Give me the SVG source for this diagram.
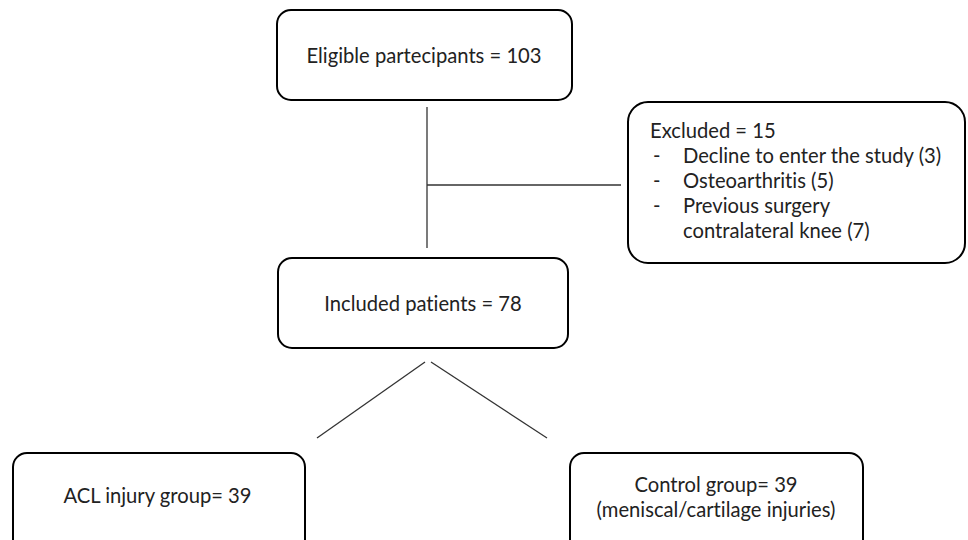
<svg xmlns="http://www.w3.org/2000/svg" width="968" height="540" viewBox="0 0 968 540">
<style>
.box{fill:#fff;stroke:#000;stroke-width:2}
.t{font-family:Lato,"Open Sans","Liberation Sans",sans-serif;font-size:20.2px;fill:#222;font-variant-ligatures:none}
.c{text-anchor:middle}
.ln{stroke:#333;stroke-width:1.3;fill:none}
</style>
<rect width="968" height="540" fill="#fff"/>
<g id="connectors">
<line class="ln" x1="427" y1="107" x2="427" y2="248"/>
<line class="ln" x1="427" y1="185" x2="621" y2="185"/>
<line class="ln" x1="425" y1="362" x2="317" y2="438"/>
<line class="ln" x1="431" y1="362" x2="547" y2="438"/>
</g>
<g id="eligible">
<rect class="box" x="277" y="10" width="295" height="90" rx="14"/>
<text class="t c" x="424" y="63">Eligible partecipants = 103</text>
</g>
<g id="excluded">
<rect class="box" x="628" y="102" width="337" height="161" rx="20"/>
<text class="t" x="650" y="138">Excluded = 15</text>
<text class="t" x="653" y="163">-</text>
<text class="t" x="683" y="163">Decline to enter the study (3)</text>
<text class="t" x="653" y="188">-</text>
<text class="t" x="683" y="188">Osteoarthritis (5)</text>
<text class="t" x="653" y="213">-</text>
<text class="t" x="683" y="213">Previous surgery</text>
<text class="t" x="683" y="238">contralateral knee (7)</text>
</g>
<g id="included">
<rect class="box" x="278" y="258" width="290" height="90" rx="14"/>
<text class="t c" x="423" y="311">Included patients = 78</text>
</g>
<g id="acl">
<rect class="box" x="13" y="453" width="292" height="100" rx="14"/>
<text class="t c" x="157.5" y="503">ACL injury group= 39</text>
</g>
<g id="control">
<rect class="box" x="570" y="453" width="293" height="100" rx="14"/>
<text class="t c" x="716" y="492">Control group= 39</text>
<text class="t c" x="716" y="517">(meniscal/cartilage injuries)</text>
</g>
</svg>
